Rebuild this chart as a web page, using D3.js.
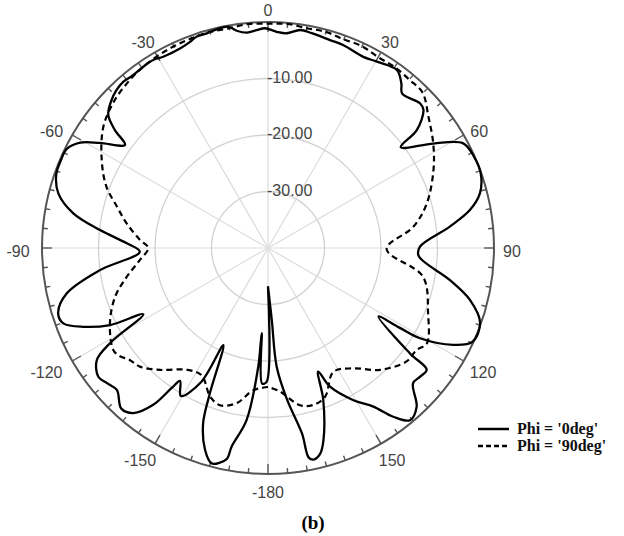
<!DOCTYPE html>
<html>
<head>
<meta charset="utf-8">
<script src="https://cdn.jsdelivr.net/npm/d3@7"></script>
<style>
  html, body { margin: 0; padding: 0; background: #fff; }
  svg { display: block; }
</style>
</head>
<body>
<svg id="chart" width="624" height="536"></svg>
<script>
// ---- data ----
const angleTicks = [-180, -150, -120, -90, -60, -30, 0, 30, 60, 90, 120, 150];
const ringValues = [-30, -20, -10];
const ringLabels = ["-30.00", "-20.00", "-10.00"];
const seriesNames = ["Phi = '0deg'", "Phi = '90deg'"];

const phi0Angles = [-180, -179.4, -177.5, -175.8, -175.3, -172.9, -169.6, -169.0, -167.2, -165.3, -162.7, -159.7, -158.2,
  -155.3, -153.5, -149.5, -146.5, -145.5, -143.8, -140.8, -137.6, -133.2, -130, -127.2, -123.2, -121, -118, -116,
  -113.1, -110.2, -107.3, -102.7, -97.5, -91.7, -88.1, -83.9, -79.9, -75.4, -70.7, -67.4, -63.8, -60.7, -58, -54.2,
  -52.4, -50.2, -47, -44, -41, -38, -34.5, -31.4, -28.7, -23.8, -20.7, -18.6, -15.9, -13.2, -10.2, -8.2, -5.6, -3,
  -0.8, 2.3, 5, 8.4, 11.5, 16.6, 20.3, 26.5, 30.3, 35.9, 39, 41, 46.4, 48.4, 51.6, 52.8, 57.7, 61.8, 66.4, 70.7,
  75.5, 79.3, 83.3, 89.5, 93, 100, 104.4, 109.4, 114.7, 117.6, 120.7, 121.2, 121.8, 126.6, 127.5, 130.3, 133, 136.9,
  140.5, 143.4, 146.4, 150.7, 155.9, 157.9, 160, 163.9, 165.8, 167.8, 169.0, 169.6, 172.8, 175.8, 177, 180];
const phi0Values = [-33.2, -16.3, -16, -24.9, -18.9, -9.3, -4.2, -2.0, -1.0, -0.6, -2.55, -6.9, -12.3,
  -21.1, -13.5, -9.6, -11.8, -10, -5.6, -2.3, -1.5, -3.3, -2.8, -2.3, -3.8, -7.5, -15, -8.9,
  -4.45, -1.4, -1.1, -3.5, -10, -17.3, -15, -10.1, -5.0, -1.65, -0.3, -0.2, -0.3, -1.9, -4.9, -8.8,
  -5.8, -3.2, -2, -1.3, -1.0, -1.2, -1.05, -1.0, -1.4, -1.4, -1.0, -0.5, -0.5, -0.25, -0.2, -1.15, -1.7, -1.4,
  -1.1, -1.7, -1.85, -1.0, -1.2, -1.6, -1.7, -2.2, -1.8, -1.1, -2.5, -3.8, -2.85, -3.2, -6.4, -10.5, -5.4, -0.8, -0.1, -0.1,
  -1.25, -3.6, -7.6, -13.1, -13.3, -7.3, -3.1, -0.2, -0.2, -3, -8.7, -12.8, -17, -8.7, -4.6, -4.75, -4.9, -1.5,
  -0.5, -2.8, -6.3, -9.1, -13.1, -16.4, -11.4, -4.6, -2.4, -1.7, -2.2, -6.6, -12.9, -18.9, -27.3, -33.2];

const phi90Angles = [-180, -174.1, -168.6, -163, -158.7, -152.4, -146.3, -138.5, -132.8, -129, -126, -123.4, -115.5,
  -107.7, -101.5, -95.4, -90, -86.4, -80.1, -74.7, -69.2, -62.1, -53.6, -46, -39.4, -35, -30, -25, -20, -15, -10, -5,
  0, 5, 10, 15, 20, 25, 30, 35, 40, 44.8, 50.7, 57.7, 64.7, 74.3, 81.7, 90.5, 100.5, 112.2, 121, 124.4, 129.3, 137.4,
  144.7, 152.2, 159, 163.9, 168.5, 175.2, 180];
const phi90Values = [-15.4, -14.7, -12, -10.9, -11.8, -14.6, -14.1, -11.2, -9.1, -8.5, -7.5, -7.2, -9.0,
  -11.6, -14.5, -17.2, -18.8, -17.3, -14.6, -12.3, -9.4, -6.7, -3.8, -2.3, -1.5, -1.1, -0.8, -0.6, -0.5, -0.4, -0.5, -0.2,
  -0.3, -0.2, -0.5, -0.4, -0.7, -0.6, -1.0, -0.9, -1.1, -1.2, -3.3, -5.4, -7.6, -10.8, -14, -19, -12.1, -9.4, -7.2, -8.1, -8.3, -10.7,
  -13.9, -15.2, -11.8, -11.1, -11.6, -14.5, -15.4];

// ---- layout ----
const cx = 268, cy = 248, R = 226;
const svg = d3.select("#chart");
const g = svg.append("g").attr("transform", `translate(${cx},${cy})`);
const r = d3.scaleLinear().domain([-40, 0]).range([0, R]);
const rad = d => d * Math.PI / 180;

// spokes
const spokeAngles = d3.range(0, 360, 30);
g.selectAll("line.spoke").data(spokeAngles).join("line")
  .attr("x1", 0).attr("y1", 0)
  .attr("x2", d => R * Math.sin(rad(d))).attr("y2", d => -R * Math.cos(rad(d)))
  .attr("stroke", "#dcdcdc").attr("stroke-width", 1.2);

// rings
g.selectAll("circle.ring").data(ringValues).join("circle")
  .attr("r", d => r(d)).attr("fill", "none")
  .attr("stroke", "#d2d2d2").attr("stroke-width", 1.3);

// outer circle
g.append("circle").attr("r", R).attr("fill", "none")
  .attr("stroke", "#555").attr("stroke-width", 2);

// ticks every 5 deg
const tickAngles = d3.range(-175, 185, 5);
g.selectAll("line.tick").data(tickAngles).join("line")
  .attr("x1", d => R * Math.sin(rad(d))).attr("y1", d => -R * Math.cos(rad(d)))
  .attr("x2", d => (R - (d % 30 === 0 ? 10 : 5)) * Math.sin(rad(d)))
  .attr("y2", d => -(R - (d % 30 === 0 ? 10 : 5)) * Math.cos(rad(d)))
  .attr("stroke", "#555").attr("stroke-width", 1.4);

// ring labels
g.selectAll("text.ringlab").data(ringValues).join("text")
  .attr("x", -1).attr("y", d => -r(d) + 4)
  .attr("font-family", "Liberation Sans, Arial, sans-serif")
  .attr("font-size", 16).attr("fill", "#444")
  .text((d, i) => ringLabels[i]);

// angle labels
const r0 = 235;
g.selectAll("text.anglab").data(angleTicks).join("text")
  .attr("font-family", "Liberation Sans, Arial, sans-serif")
  .attr("font-size", 16).attr("fill", "#444")
  .attr("text-anchor", "middle")
  .text(d => String(d))
  .each(function(d) {
    const w = this.getComputedTextLength();
    const s = Math.sin(rad(d)), c = Math.cos(rad(d));
    const k = d < 0 && d > -180 ? 1.3 : 1.0;
    const x = r0 * s + k * (w / 2) * s;
    const y = -r0 * c - 6 * c + 3 + 6;
    d3.select(this).attr("x", x).attr("y", y);
  });

// curves
const line = d3.lineRadial()
  .angle(d => rad(d[0]))
  .radius(d => r(d[1]))
  .curve(d3.curveCatmullRom.alpha(0.5));

const s0 = phi0Angles.map((a, i) => [a, phi0Values[i]]);
const s1 = phi90Angles.map((a, i) => [a, phi90Values[i]]);

g.append("path").attr("d", line(s1)).attr("fill", "none")
  .attr("stroke", "#000").attr("stroke-width", 2.2).attr("stroke-dasharray", "6,4");
g.append("path").attr("d", line(s0)).attr("fill", "none")
  .attr("stroke", "#000").attr("stroke-width", 2.3).attr("stroke-linejoin", "round");

// legend
const leg = svg.append("g");
const legY = [429, 446];
const dashes = [null, "5,3"];
seriesNames.forEach((name, i) => {
  leg.append("line").attr("x1", 478).attr("x2", 509)
    .attr("y1", legY[i]).attr("y2", legY[i])
    .attr("stroke", "#000").attr("stroke-width", 2.5)
    .attr("stroke-dasharray", dashes[i]);
  leg.append("text").attr("x", 517).attr("y", legY[i] + 5)
    .attr("font-family", "Liberation Serif, Times New Roman, serif")
    .attr("font-weight", "bold").attr("font-size", 16).attr("fill", "#111")
    .text(name);
});

// caption
svg.append("text").attr("x", 313).attr("y", 529)
  .attr("text-anchor", "middle")
  .attr("font-family", "Liberation Serif, Times New Roman, serif")
  .attr("font-weight", "bold").attr("font-size", 19).attr("fill", "#000")
  .text("(b)");
</script>
</body>
</html>
